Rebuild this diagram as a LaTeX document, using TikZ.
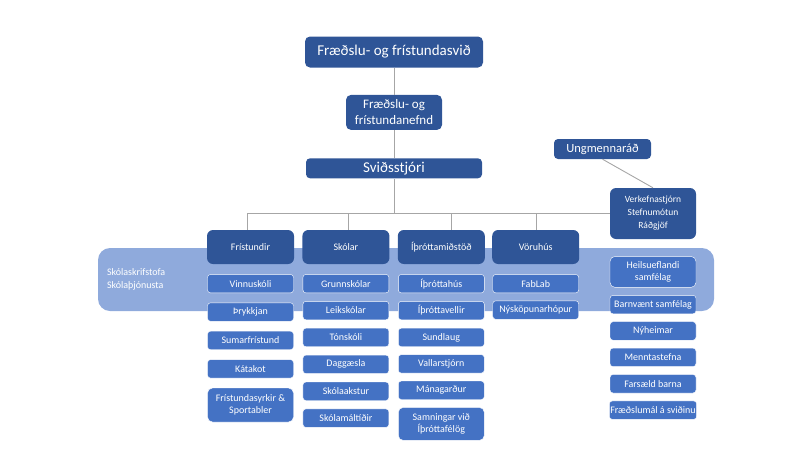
\documentclass[tikz,border=0pt]{standalone}
\usepackage{fontspec}
\setmainfont{Carlito}
\usetikzlibrary{positioning}
\definecolor{darkblue}{HTML}{2F5597}
\definecolor{midblue}{HTML}{4472C4}
\definecolor{paleblue}{HTML}{8FAADC}
\definecolor{linegray}{HTML}{A6A6A6}

\begin{document}
\begin{tikzpicture}[
		x=1pt, y=-1pt,
		head/.style={fill=darkblue, text=white, rounded corners=5pt, align=center, inner sep=1pt},
		unit/.style={head, minimum width=87pt, minimum height=34pt, rounded corners=6pt, font=\fontsize{10}{12}\selectfont},
		item/.style={fill=midblue, draw=white, line width=0.4pt, text=white, rounded corners=3pt, align=center, inner sep=1pt, minimum width=86pt, minimum height=18.5pt, font=\fontsize{10}{12}\selectfont},
		band/.style={fill=paleblue, text=white, rounded corners=12pt, align=left, font=\fontsize{10}{13}\selectfont},
		link/.style={draw=linegray, line width=0.9pt}
		]
		\useasboundingbox (0,0) rectangle (800,450);
		% Skolaskrifstofa band behind the units
		\node[band, minimum height=63pt, text width=598pt, inner xsep=9pt] (kontor) at (406,279.5) {Skólaskrifstofa\\Skólaþjónusta};

		\node[head, minimum width=178pt, minimum height=31pt, font=\fontsize{15}{18}\selectfont] (top) at (394,52) {Fræðslu- og frístundasvið};
		\node[head, below=27pt of top, minimum width=96pt, minimum height=35pt, font=\fontsize{13}{16}\selectfont] (nefnd) {Fræðslu- og\\frístundanefnd};
		\node[head, below=28pt of nefnd, minimum width=176pt, minimum height=20pt, rounded corners=4pt, font=\fontsize{15}{18}\selectfont] (svid) {Sviðsstjóri};

		\node[head, minimum width=86pt, minimum height=51pt, rounded corners=6pt, font=\fontsize{9.5}{13}\selectfont] (vk) at (653,213.5) {Verkefnastjórn\\Stefnumótun\\Ráðgjöf};
		\node[head, minimum width=97pt, minimum height=20pt, rounded corners=4pt, font=\fontsize{12.5}{15}\selectfont] (ung) at (602.5,149) {Ungmennaráð};

		\node[unit] (frist) at (250.5,247) {Frístundir};
		\node[unit, right=8pt of frist] (skol) {Skólar};
		\node[unit, right=8pt of skol] (ithr) {Íþróttamiðstöð};
		\node[unit, right=7pt of ithr] (voru) {Vöruhús};

		% Frístundir
		\node[item, below=10pt of frist] (vinn) {Vinnuskóli};
		\node[item, below=9.5pt of vinn] (thry) {Þrykkjan};
		\node[item, below=9.5pt of thry] (sumar) {Sumarfrístund};
		\node[item, below=9.5pt of sumar] (kata) {Kátakot};
		\node[item, below=9.5pt of kata, minimum height=34pt, rounded corners=5pt] (syrk) {Frístundasyrkir \&\\Sportabler};

		% Skólar
		\node[item, below=10pt of skol] (grunn) {Grunnskólar};
		\node[item, below=8pt of grunn] (leik) {Leikskólar};
		\node[item, below=8pt of leik] (tons) {Tónskóli};
		\node[item, below=8pt of tons] (dagg) {Daggæsla};
		\node[item, below=8pt of dagg] (akst) {Skólaakstur};
		\node[item, below=8pt of akst] (malt) {Skólamáltíðir};

		% Íþróttamiðstöð
		\node[item, below=10pt of ithr] (hus) {Íþróttahús};
		\node[item, below=8pt of hus] (voll) {Íþróttavellir};
		\node[item, below=8pt of voll] (sund) {Sundlaug};
		\node[item, below=7.5pt of sund] (vall) {Vallarstjórn};
		\node[item, below=7.5pt of vall] (mana) {Mánagarður};
		\node[item, below=7.5pt of mana, minimum height=33pt, rounded corners=5pt] (samn) {Samningar við\\Íþróttafélög};

		% Vöruhús
		\node[item, below=10pt of voru] (fab) {FabLab};
		\node[item, below=7.5pt of fab] (nysk) {Nýsköpunarhópur};

		% Verkefni
		\node[item, below=17pt of vk, minimum height=31pt, rounded corners=5pt] (heil) {Heilsueflandi\\samfélag};
		\node[item, below=7.5pt of heil] (barn) {Barnvænt samfélag};
		\node[item, below=7.5pt of barn] (nyh) {Nýheimar};
		\node[item, below=7.5pt of nyh] (mennt) {Menntastefna};
		\node[item, below=7.5pt of mennt] (fars) {Farsæld barna};
		\node[item, below=7.5pt of fars] (fraed) {Fræðslumál á sviðinu};

		\draw[link] (top) -- (nefnd);
		\draw[link] (nefnd) -- (svid);
		\draw[link] (svid) |- (vk.west);
		\draw[link] ([xshift=-3pt]frist.north) |- (vk.west);
		\draw[link] ([xshift=3pt]skol.north) |- (vk.west);
		\draw[link] ([xshift=10pt]ithr.north) |- (vk.west);
		\draw[link] ([xshift=1pt]voru.north) |- (vk.west);
		\draw[link] (ung.south) -- (vk.north);

	\end{tikzpicture}
\end{document}
